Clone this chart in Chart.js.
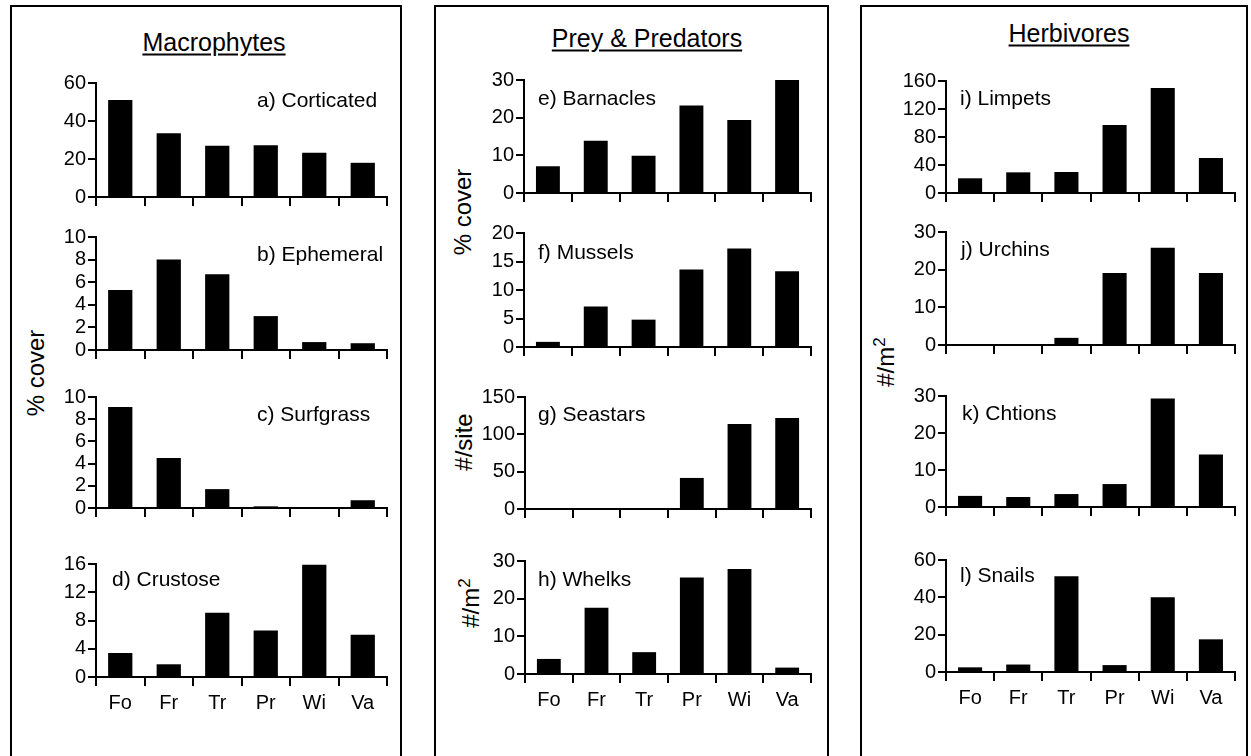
<!DOCTYPE html>
<html lang="en">
<head>
<meta charset="UTF-8">
<title>Site comparisons</title>
<style>
    body {
        margin: 0;
        background: #fff;
        width: 1251px;
        height: 756px;
        overflow: hidden;
        position: relative;
        font-family: "Liberation Sans", Arial, sans-serif;
        color: #000;
    }
    .frame {
        position: absolute;
        top: 5px;
        height: 800px;
        border: 2px solid #000;
        border-bottom: none;
        box-sizing: border-box;
    }
    .title {
        position: absolute;
        font-size: 25px;
        line-height: 1;
        text-decoration: underline;
        text-underline-offset: 3px;
        transform: translate(-50%, -50%);
        white-space: nowrap;
    }
    .lab {
        position: absolute;
        font-size: 21px;
        line-height: 1;
        transform: translateY(-50%);
        white-space: nowrap;
    }
    .ytitle {
        position: absolute;
        font-size: 24px;
        line-height: 1;
        transform: translate(-50%, -50%) rotate(-90deg);
        white-space: nowrap;
    }
    .ytitle sup { font-size: 17px; }
    .plot { position: absolute; }
</style>
</head>
<body>
    <div class="frame" style="left:10px;width:392px"></div>
    <div class="frame" style="left:434px;width:395px"></div>
    <div class="frame" style="left:860px;width:388px"></div>

    <div class="title" style="left:214px;top:42px">Macrophytes</div>
    <div class="title" style="left:647px;top:38px">Prey &amp; Predators</div>
    <div class="title" style="left:1069px;top:33px">Herbivores</div>

    <div class="ytitle" style="left:36px;top:373px">% cover</div>
    <div class="ytitle" style="left:463px;top:212px">% cover</div>
    <div class="ytitle" style="left:464px;top:442px">#/site</div>
    <div class="ytitle" style="left:469px;top:603px">#/m<sup>2</sup></div>
    <div class="ytitle" style="left:884px;top:362px">#/m<sup>2</sup></div>

<script src="https://cdn.jsdelivr.net/npm/chart.js@4.4.0/dist/chart.umd.min.js"></script>
<script>
    const sites = ['Fo', 'Fr', 'Tr', 'Pr', 'Wi', 'Va'];

    // macrophytes (% cover)
    const corticated = [51, 33.5, 27, 27.3, 23.3, 18];
    const ephemeral = [5.3, 8.0, 6.7, 3.0, 0.7, 0.6];
    const surfgrass = [9.1, 4.5, 1.7, 0.15, 0.05, 0.7];
    const crustose = [3.4, 1.8, 9.1, 6.6, 15.9, 6.0];
    // prey & predators
    const barnacles = [7.1, 13.9, 9.9, 23.2, 19.4, 30];
    const mussels = [0.9, 7.1, 4.8, 13.6, 17.3, 13.3];
    const seastars = [0.3, 0.2, 0.5, 41.6, 114, 122];
    const whelks = [4.0, 17.6, 5.8, 25.6, 27.9, 1.7];
    // herbivores
    const limpets = [21, 29.5, 30, 97, 150, 50];
    const urchins = [0.2, 0.1, 1.9, 19.1, 25.8, 19.1];
    const chitons = [3.0, 2.7, 3.5, 6.2, 29.3, 14.2];
    const snails = [2.5, 4.0, 51.3, 3.7, 40, 17.5];

    // y axis ranges [max, step]
    const ranges = {
        corticated: [60, 20], ephemeral: [10, 2], surfgrass: [10, 2], crustose: [16, 4],
        barnacles: [30, 10], mussels: [20, 5], seastars: [150, 50], whelks: [30, 10],
        limpets: [160, 40], urchins: [30, 10], chitons: [30, 10], snails: [60, 20]
    };

    // x = y-axis position, r = right end, top/bottom of plot area, label position
    const plots = [
        { name: 'corticated', data: corticated, label: 'a) Corticated', x: 96, r: 387, top: 81, bottom: 197, lx: 257, ly: 99 },
        { name: 'ephemeral', data: ephemeral, label: 'b) Ephemeral', x: 96, r: 387, top: 235, bottom: 350, lx: 257, ly: 253 },
        { name: 'surfgrass', data: surfgrass, label: 'c) Surfgrass', x: 96, r: 387, top: 395, bottom: 508, lx: 257, ly: 413 },
        { name: 'crustose', data: crustose, label: 'd) Crustose', x: 96, r: 387, top: 562, bottom: 677, lx: 112, ly: 578, cats: true },
        { name: 'barnacles', data: barnacles, label: 'e) Barnacles', x: 524, r: 811, top: 78, bottom: 193, lx: 538, ly: 97 },
        { name: 'mussels', data: mussels, label: 'f) Mussels', x: 524, r: 811, top: 231, bottom: 347, lx: 538, ly: 251 },
        { name: 'seastars', data: seastars, label: 'g) Seastars', x: 525, r: 811, top: 395, bottom: 509, lx: 538, ly: 413 },
        { name: 'whelks', data: whelks, label: 'h) Whelks', x: 525, r: 811, top: 559, bottom: 674, lx: 538, ly: 578, cats: true },
        { name: 'limpets', data: limpets, label: 'i) Limpets', x: 946, r: 1235, top: 79, bottom: 193, lx: 960, ly: 97 },
        { name: 'urchins', data: urchins, label: 'j) Urchins', x: 946, r: 1235, top: 230, bottom: 345, lx: 961, ly: 248 },
        { name: 'chitons', data: chitons, label: 'k) Chtions', x: 946, r: 1235, top: 394, bottom: 507, lx: 962, ly: 412 },
        { name: 'snails', data: snails, label: 'l) Snails', x: 946, r: 1235, top: 558, bottom: 672, lx: 960, ly: 574, cats: true }
    ];

    Chart.defaults.font.family = '"Liberation Sans", Arial, sans-serif';
    Chart.defaults.font.size = 20;
    Chart.defaults.color = '#000';

    const YW = 60, PADT = 12, PADR = 6;

    plots.forEach((p) => {
        const xh = p.cats ? 46 : 14;
        const box = document.createElement('div');
        box.className = 'plot';
        box.style.left = (p.x - YW) + 'px';
        box.style.top = (p.top - PADT) + 'px';
        box.style.width = (p.r - p.x + YW + PADR) + 'px';
        box.style.height = (p.bottom - p.top + PADT + xh) + 'px';
        const canvas = document.createElement('canvas');
        box.appendChild(canvas);
        document.body.appendChild(box);

        const lab = document.createElement('div');
        lab.className = 'lab';
        lab.style.left = p.lx + 'px';
        lab.style.top = p.ly + 'px';
        lab.textContent = p.label;
        document.body.appendChild(lab);

        const [max, step] = ranges[p.name];
        new Chart(canvas, {
            type: 'bar',
            data: {
                labels: sites,
                datasets: [{
                    data: p.data,
                    backgroundColor: '#000',
                    borderWidth: 0,
                    barPercentage: 0.5,
                    categoryPercentage: 1
                }]
            },
            options: {
                responsive: true,
                maintainAspectRatio: false,
                animation: false,
                events: [],
                layout: { autoPadding: false, padding: { top: PADT, right: PADR, left: 0, bottom: 0 } },
                plugins: { legend: { display: false }, tooltip: { enabled: false } },
                scales: {
                    x: {
                        grid: { offset: true, drawOnChartArea: false, drawTicks: true, tickLength: 9, color: '#000', lineWidth: 2 },
                        border: { display: true, color: '#000', width: 2 },
                        ticks: { display: !!p.cats, padding: 5, autoSkip: false, maxRotation: 0, font: { size: 20 } },
                        afterFit: (s) => { s.height = xh; }
                    },
                    y: {
                        min: 0,
                        max: max,
                        grid: { drawOnChartArea: false, drawTicks: true, tickLength: 8, color: '#000', lineWidth: 2 },
                        border: { display: true, color: '#000', width: 2 },
                        ticks: { stepSize: step, padding: 2, autoSkip: false, font: { size: 20 } },
                        afterFit: (s) => { s.width = YW; }
                    }
                }
            }
        });
    });
</script>
</body>
</html>
